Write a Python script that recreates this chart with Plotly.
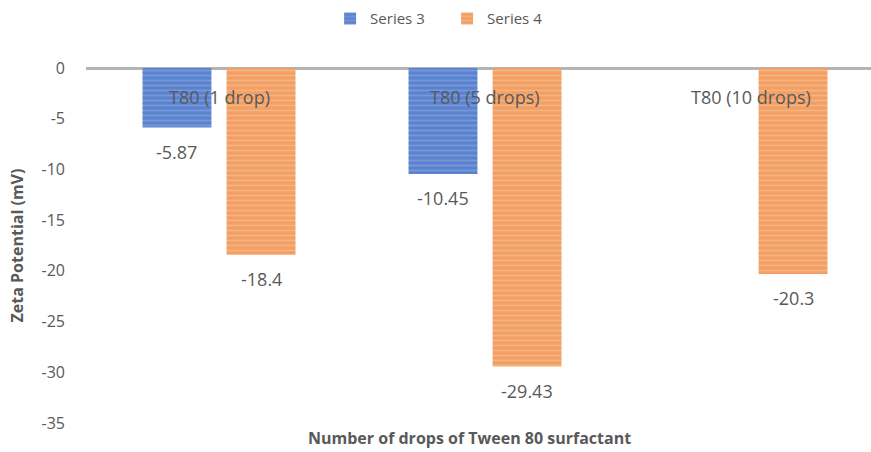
import plotly.graph_objects as go

# Zeta potential of emulsions with increasing Tween 80 dosage
categories = ["T80 (1 drop)", "T80 (5 drops)", "T80 (10 drops)"]
series3 = [-5.87, -10.45, None]
series4 = [-18.4, -29.43, -20.3]
series_names = ["Series 3", "Series 4"]
y_ticks = [0, -5, -10, -15, -20, -25, -30, -35]
y_tick_text = ["0", "-5", "-10", "-15", "-20", "-25", "-30", "-35"]

blue = "#5A82CF"
blue_stripe = "#93B0E6"
orange = "#F39E63"
orange_stripe = "#FAC9A2"
text_gray = "#595959"
font_family = "Open Sans, Liberation Sans, sans-serif"

x_idx = list(range(len(categories)))

fig = go.Figure()
fig.add_trace(go.Bar(
    x=x_idx, y=series3, name=series_names[0],
    marker=dict(color=blue, line=dict(width=0),
                pattern=dict(shape="-", fgcolor=blue_stripe, bgcolor=blue,
                             size=5, solidity=0.35)),
))
fig.add_trace(go.Bar(
    x=x_idx, y=series4, name=series_names[1],
    marker=dict(color=orange, line=dict(width=0),
                pattern=dict(shape="-", fgcolor=orange_stripe, bgcolor=orange,
                             size=5, solidity=0.35)),
))

# value labels beneath each bar
offset = 0.158
for vals, dx in ((series3, -offset), (series4, offset)):
    for i, v in enumerate(vals):
        if v is None:
            continue
        fig.add_annotation(x=i + dx, y=v, text=f"{v:g}", showarrow=False,
                           yshift=-24, font=dict(size=18, color=text_gray,
                                                  family=font_family))

# category labels just below the zero line
for i, c in enumerate(categories):
    fig.add_annotation(x=i, y=-2.85, text=c, showarrow=False,
                       font=dict(size=18, color=text_gray, family=font_family))

# x-axis title
fig.add_annotation(xref="paper", yref="paper", x=0.489, y=0, yshift=-15,
                   yanchor="middle", showarrow=False,
                   text="<b>Number of drops of Tween 80 surfactant</b>",
                   font=dict(size=16, color=text_gray, family=font_family))

fig.update_layout(
    width=871, height=452,
    margin=dict(l=86, r=0, t=68, b=29),
    paper_bgcolor="white", plot_bgcolor="white",
    barmode="group", bargap=0.368, bargroupgap=0.18,
    font=dict(family=font_family, color=text_gray, size=14),
    legend=dict(orientation="h", x=0.46, xanchor="center", y=0.995, yref="container",
                yanchor="top", font=dict(size=15, color=text_gray),
                itemwidth=30, entrywidth=72, traceorder="normal"),
    xaxis=dict(range=[-0.5, 2.451], showticklabels=False, showgrid=False,
               zeroline=False, showline=False, ticks=""),
    yaxis=dict(range=[-35, 0], tickvals=y_ticks, ticktext=y_tick_text,
               showgrid=False, zeroline=True, zerolinecolor="#B4B4B4",
               zerolinewidth=3, ticks="", ticklabelstandoff=20,
               tickfont=dict(size=16, color=text_gray),
               title=dict(text="<b>Zeta Potential (mV)</b>",
                          font=dict(size=16, color=text_gray), standoff=13)),
)

fig.write_html("out.html")
